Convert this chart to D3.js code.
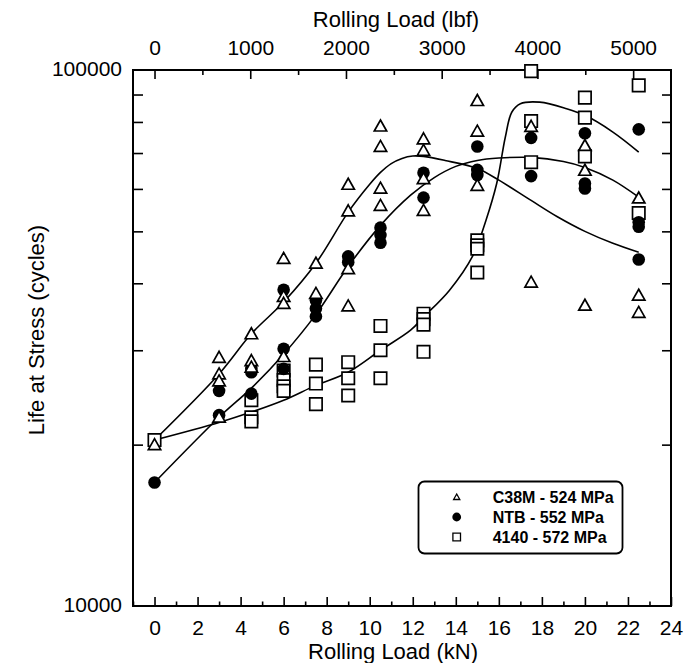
<!DOCTYPE html>
<html>
<head>
<meta charset="utf-8">
<script src="https://cdn.jsdelivr.net/npm/d3@7"></script>
<style>
  html, body { margin: 0; padding: 0; background: #fff; }
  svg text { font-family: "Liberation Sans", Arial, sans-serif; fill: #000; }
</style>
</head>
<body>
<svg id="chart" width="696" height="663"></svg>
<script>
// Rolling load (kN) vs. life at stress (cycles), three materials
const c38m = [
  [0,20000],
  [3,29100],[3,27100],[3,26300],[3,22500],
  [4.5,32200],[4.5,28700],[4.5,27900],
  [6,44500],[6,37800],[6,36700],[6,29200],
  [7.5,43600],[7.5,38300],
  [9,61200],[9,54600],[9,42600],[9,36300],
  [10.5,78600],[10.5,72000],[10.5,60200],[10.5,55900],
  [12.5,74400],[12.5,70800],[12.5,62700],[12.5,54700],
  [15,87700],[15,76900],[15,60900],
  [17.5,78500],[17.5,40200],
  [20,72300],[20,65000],[20,36400],
  [22.5,57700],[22.5,38000],[22.5,35300]
];
const ntb = [
  [0,17000],
  [3,25200],[3,22700],
  [4.5,27700],[4.5,27300],[4.5,24900],
  [6,38900],[6,30200],[6,27700],
  [7.5,37200],[7.5,35900],[7.5,34700],
  [9,44900],[9,43800],
  [10.5,50800],[10.5,49200],[10.5,47600],
  [12.5,64300],[12.5,57800],
  [15,72000],[15,65100],[15,63700],
  [17.5,74700],[17.5,63400],
  [20,76200],[20,61400],[20,60100],
  [22.5,77500],[22.5,52000],[22.5,51000],[22.5,44300]
];
const aisi4140 = [
  [0,20400],
  [4.5,24200],[4.5,22500],[4.5,22100],
  [6,27500],[6,26400],[6,25700],[6,25200],
  [7.5,28200],[7.5,26000],[7.5,23800],
  [9,28500],[9,26600],[9,24700],
  [10.5,33300],[10.5,30000],[10.5,26600],
  [12.5,35100],[12.5,34300],[12.5,33500],[12.5,29800],
  [15,48100],[15,47100],[15,46400],[15,41900],
  [17.5,99500],[17.5,80300],[17.5,67300],
  [20,88800],[20,81500],[20,69000],
  [22.5,93600],[22.5,54100]
];

// Fitted trend curves
const fitA = [
  [0,20400],[3,27100],[4.5,32200],[6,36900],[7.5,43600],[9,54300],
  [10,61200],[10.5,64400],[11,66900],[11.5,68400],[12,69100],[12.5,69000],
  [13.5,67800],[15,65500],[16,62300],[17.5,57100],[18.7,53300],[20,50000],
  [21.3,47500],[22.5,45700]
];
const fitB = [
  [0,17000],[3,22500],[4.5,25500],[6,29500],[7.5,35000],[9,43000],
  [10.5,51300],[11.9,58400],[13,63000],[14,66100],[15,67800],
  [16,68500],[17.5,68700],[19,67500],[20,65800],[21.3,62300],[22.5,57900]
];
const fitC = [
  [0,20400],[3,22000],[4.5,23000],[6,24200],[7.5,25800],[9,27300],
  [10.5,30000],[11.9,32700],[12.5,34600],[13.7,38800],[14.8,45100],
  [15.4,52400],[15.9,61400],[16.3,74900],[16.6,83400],[17,86500],
  [17.9,87100],[19.15,84700],[20,82300],[21.3,76600],[22.5,70300]
];

const kNTicksMajor = d3.range(0, 25, 2);
const kNTicksMinor = d3.range(-1, 24, 2);
const lbfTicksMajor = [0, 1000, 2000, 3000, 4000, 5000];
const lbfTicksMinor = [500, 1500, 2500, 3500, 4500];
const lifeTicksLabeled = [10000, 100000];
const lifeTicksMinor = d3.range(20000, 100000, 10000);

const legendItems = [
  { label: "C38M - 524 MPa", shape: "tri" },
  { label: "NTB - 552 MPa", shape: "circ" },
  { label: "4140 - 572 MPa", shape: "sq" }
];

const KN_PER_LBF = 0.00444822;

const svg = d3.select("#chart");
const L = 133, R = 671, T = 70, B = 606;
const x = d3.scaleLinear().domain([-1, 24]).range([L, R]);
const y = d3.scaleLog().domain([10000, 100000]).range([B, T]);

// Trend curves
const line = d3.line()
  .x(d => x(d[0])).y(d => y(d[1]))
  .curve(d3.curveCatmullRom.alpha(0.5));
[fitA, fitB, fitC].forEach(f => {
  svg.append("path").attr("d", line(f))
    .attr("fill", "none").attr("stroke", "#000").attr("stroke-width", 1.6);
});

// Bottom axis (kN)
const gB = svg.append("g").attr("transform", `translate(0,${B})`);
gB.call(d3.axisBottom(x).tickValues(kNTicksMajor).tickSizeInner(-9).tickSizeOuter(0).tickPadding(14))
  .call(g => g.select(".domain").remove());
gB.append("g").call(d3.axisBottom(x).tickValues(kNTicksMinor).tickSizeInner(-4.5).tickSizeOuter(0).tickFormat(""))
  .call(g => g.select(".domain").remove());

// Top axis (lbf)
const gT = svg.append("g").attr("transform", `translate(0,${T})`);
gT.call(d3.axisTop(x).tickValues(lbfTicksMajor.map(v => v * KN_PER_LBF)).tickSizeInner(-9).tickSizeOuter(0)
    .tickPadding(15.5).tickFormat((d, i) => lbfTicksMajor[i]))
  .call(g => g.select(".domain").remove());
gT.append("g").call(d3.axisTop(x).tickValues(lbfTicksMinor.map(v => v * KN_PER_LBF)).tickSizeInner(-5).tickSizeOuter(0).tickFormat(""))
  .call(g => g.select(".domain").remove());

// Left axis (cycles, log)
const gL = svg.append("g").attr("transform", `translate(${L},0)`);
gL.call(d3.axisLeft(y).tickValues(lifeTicksLabeled).tickSizeInner(0).tickSizeOuter(0).tickPadding(11).tickFormat(d3.format("d")))
  .call(g => g.select(".domain").remove());
gL.selectAll(".tick text").attr("dy", "0.24em");
gL.append("g").call(d3.axisLeft(y).tickValues(lifeTicksMinor).tickSizeInner(-10).tickSizeOuter(0).tickFormat(""))
  .call(g => g.select(".domain").remove());

// Right axis ticks
const gR = svg.append("g").attr("transform", `translate(${R},0)`);
gR.call(d3.axisRight(y).tickValues(lifeTicksMinor).tickSizeInner(-9).tickSizeOuter(0).tickFormat(""))
  .call(g => g.select(".domain").remove());

svg.selectAll(".tick line").attr("stroke", "#000").attr("stroke-width", 1.6);
svg.selectAll(".tick text").attr("font-size", 21).attr("font-family", "'Liberation Sans', Arial, sans-serif");

// Plot frame
svg.append("rect").attr("x", L).attr("y", T).attr("width", R - L).attr("height", B - T)
  .attr("fill", "none").attr("stroke", "#000").attr("stroke-width", 2);

// Axis titles
svg.append("text").attr("x", 396).attr("y", 27).attr("text-anchor", "middle")
  .attr("font-size", 22).text("Rolling Load (lbf)");
svg.append("text").attr("x", 393).attr("y", 659).attr("text-anchor", "middle")
  .attr("font-size", 22).text("Rolling Load (kN)");
svg.append("text").attr("transform", "translate(44,330) rotate(-90)").attr("text-anchor", "middle")
  .attr("font-size", 22).text("Life at Stress (cycles)");

// Marker shapes
const triPath = (s) => `M0,${-s * 0.97}L${s},${s * 0.8}L${-s},${s * 0.8}Z`;
const sqPath = (s) => `M${-s},${-s}H${s}V${s}H${-s}Z`;

// Squares (4140)
svg.append("g").selectAll("path").data(aisi4140).join("path")
  .attr("transform", d => `translate(${x(d[0])},${y(d[1])})`)
  .attr("d", sqPath(6.2))
  .attr("fill", "#fff").attr("stroke", "#000").attr("stroke-width", 1.7);

// Circles (NTB)
svg.append("g").selectAll("circle").data(ntb).join("circle")
  .attr("cx", d => x(d[0])).attr("cy", d => y(d[1])).attr("r", 6.3)
  .attr("fill", "#000");

// Triangles (C38M)
svg.append("g").selectAll("path").data(c38m).join("path")
  .attr("transform", d => `translate(${x(d[0])},${y(d[1])})`)
  .attr("d", triPath(6.2))
  .attr("fill", "#fff").attr("stroke", "#000").attr("stroke-width", 1.7);

// Legend
const lg = svg.append("g");
lg.append("rect").attr("x", 418.5).attr("y", 481.5).attr("width", 204).attr("height", 72)
  .attr("rx", 6).attr("fill", "#fff").attr("stroke", "#000").attr("stroke-width", 1.8);
legendItems.forEach((it, i) => {
  const cy = 497 + i * 20;
  if (it.shape === "tri") {
    lg.append("path").attr("transform", `translate(456.7,${cy})`).attr("d", triPath(3.1))
      .attr("fill", "#fff").attr("stroke", "#000").attr("stroke-width", 1.3);
  } else if (it.shape === "circ") {
    lg.append("circle").attr("cx", 456.7).attr("cy", cy).attr("r", 4.4).attr("fill", "#000");
  } else {
    lg.append("path").attr("transform", `translate(456.7,${cy})`).attr("d", sqPath(3.8))
      .attr("fill", "#fff").attr("stroke", "#000").attr("stroke-width", 1.3);
  }
  lg.append("text").attr("x", 492.7).attr("y", cy + 5.8)
    .attr("font-size", 16).attr("font-weight", "bold").text(it.label);
});
</script>
</body>
</html>
